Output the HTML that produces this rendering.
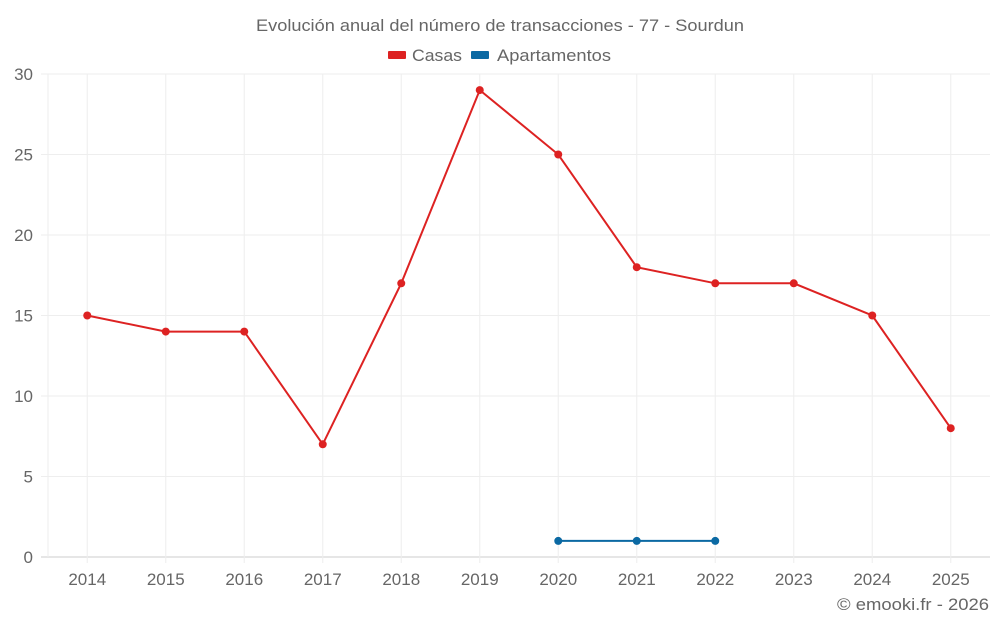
<!DOCTYPE html>
<html><head><meta charset="utf-8"><style>
body{margin:0;background:#fff;font-family:"Liberation Sans",sans-serif}
svg text{font-family:"Liberation Sans",sans-serif;fill:#666}
</style></head><body>
<svg id="c" width="1000" height="625">
<text x="256" y="31" font-size="17" textLength="488" lengthAdjust="spacingAndGlyphs">Evolución anual del número de transacciones - 77 - Sourdun</text>
<g><rect x="388" y="51" width="18" height="8" rx="1" fill="#dd2222"/><text x="412" y="61" font-size="17" textLength="50" lengthAdjust="spacingAndGlyphs">Casas</text></g>
<g><rect x="471" y="51" width="18" height="8" rx="1" fill="#0b69a3"/><text x="497" y="61" font-size="17" textLength="114" lengthAdjust="spacingAndGlyphs">Apartamentos</text></g>
<g id="grid"></g><g id="axes"></g><g id="series"></g>
<text x="837" y="610" font-size="17" textLength="152" lengthAdjust="spacingAndGlyphs">© emooki.fr - 2026</text>
</svg>
<script>
const categories=["2014","2015","2016","2017","2018","2019","2020","2021","2022","2023","2024","2025"];
const casas=[15,14,14,7,17,29,25,18,17,17,15,8];
const apartamentos=[null,null,null,null,null,null,1,1,1,null,null,null];
const yTicks=[0,5,10,15,20,25,30];
const L=48,R=990,T=74,B=557,yMax=30;
const bw=(R-L)/categories.length;
const x=i=>L+bw*(i+0.5);
const y=v=>B-(v/yMax)*(B-T);
const NS="http://www.w3.org/2000/svg";
function mk(tag,attrs,parent){const e=document.createElementNS(NS,tag);for(const k in attrs)e.setAttribute(k,attrs[k]);document.getElementById(parent).appendChild(e);return e;}
yTicks.forEach(t=>{
 const g=mk("line",{x1:L-7,x2:R,y1:y(t),y2:y(t),stroke:t===0?"#ccc":"#eee","stroke-width":1},"grid");
 
 
 const tx=mk("text",{x:33,y:y(t)+6,"text-anchor":"end","font-size":17},"axes");tx.textContent=t;
 
 
});
const vl=mk("line",{x1:L,x2:L,y1:T,y2:B,stroke:"#eee"},"grid");


categories.forEach((c,i)=>{
 const l=mk("line",{x1:x(i),x2:x(i),y1:T,y2:B+6,stroke:"#eee"},"grid");
 
 
 const tx=mk("text",{x:x(i),y:585,"text-anchor":"middle","font-size":17},"axes");tx.textContent=c;
 
 
});
function draw(vals,color,name){
 let d="";vals.forEach((v,i)=>{if(v==null)return;d+=(d?"L":"M")+x(i)+","+y(v);});
 const p=mk("path",{d:d,fill:"none",stroke:color,"stroke-width":2},"series");
 
 
 vals.forEach((v,i)=>{if(v==null)return;
  const c=mk("circle",{cx:x(i),cy:y(v),r:4,fill:color},"series");
  
  
 });
}
draw(casas,"#dd2222","casas");
draw(apartamentos,"#0b69a3","apartamentos");
</script>
</body></html>
